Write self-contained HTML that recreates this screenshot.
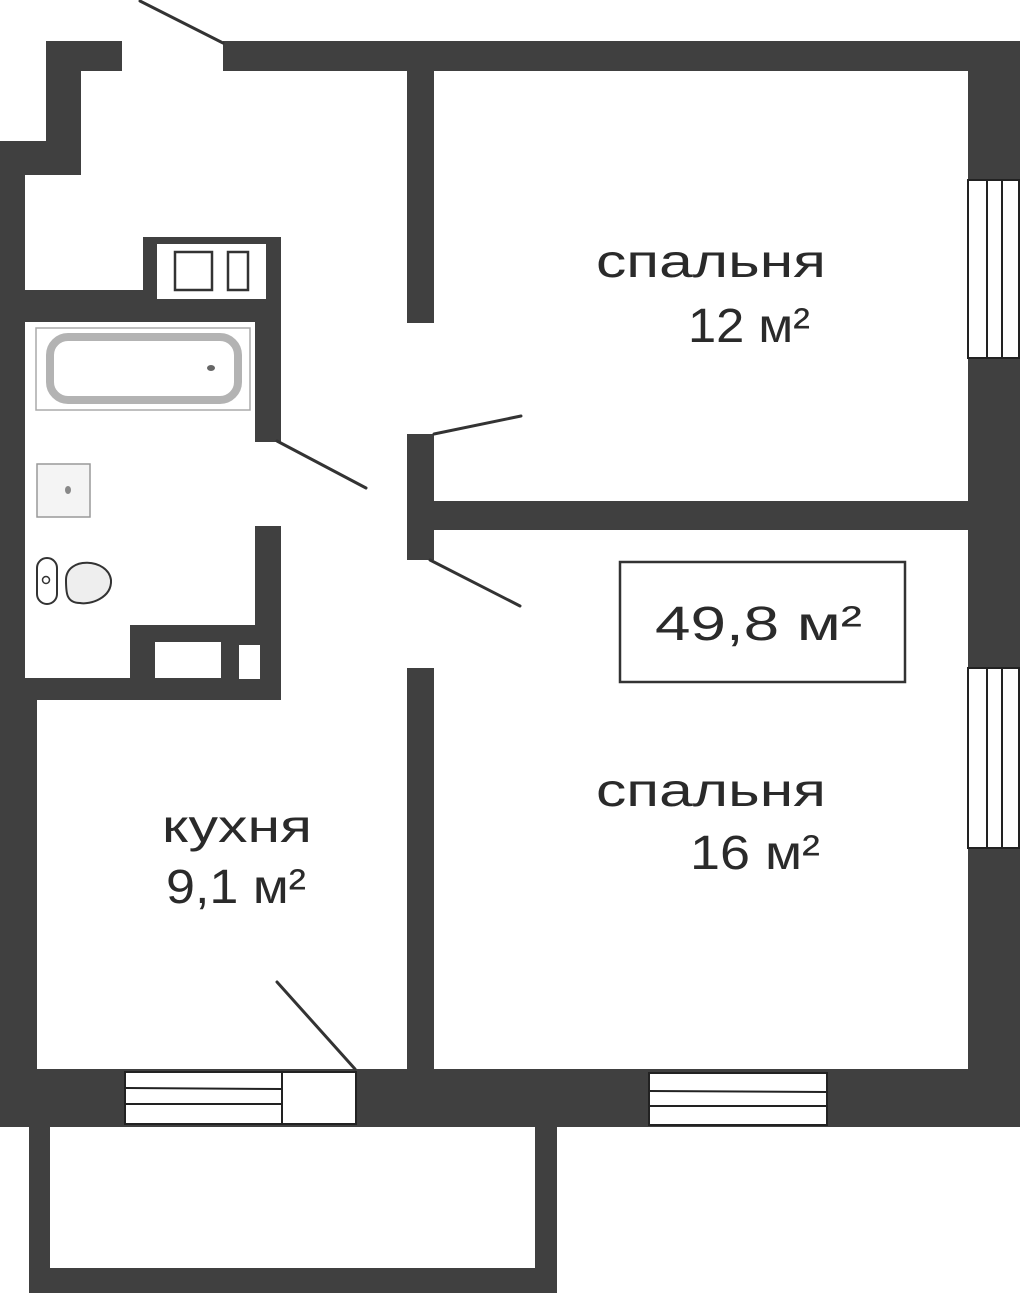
<!DOCTYPE html>
<html><head><meta charset="utf-8"><style>
html,body{margin:0;padding:0;background:#fff;}
svg{display:block}
text{font-family:"Liberation Sans","DejaVu Sans",sans-serif;fill:#2a2a2a;}
</style></head><body>
<svg width="1024" height="1294" viewBox="0 0 1024 1294" xmlns="http://www.w3.org/2000/svg">
<g fill="#404040">
<!-- top walls -->
<rect x="46" y="41" width="76" height="30"/>
<rect x="46" y="41" width="35" height="134"/>
<rect x="0" y="141" width="81" height="34"/>
<rect x="223" y="41" width="797" height="30"/>
<!-- left wall -->
<rect x="0" y="141" width="25" height="986"/>
<rect x="0" y="700" width="37" height="427"/>
<!-- right wall -->
<rect x="968" y="41" width="52" height="1086"/>
<!-- hall/bedroom partition -->
<rect x="407" y="71" width="27" height="252"/>
<rect x="407" y="434" width="27" height="126"/>
<rect x="407" y="668" width="27" height="402"/>
<!-- middle wall -->
<rect x="434" y="501" width="534" height="29"/>
<!-- bathroom walls -->
<rect x="143" y="237" width="138" height="85"/>
<rect x="24" y="290" width="257" height="32"/>
<rect x="255" y="290" width="26" height="152"/>
<rect x="255" y="526" width="26" height="174"/>
<rect x="130" y="625" width="151" height="75"/>
<rect x="24" y="678" width="257" height="22"/>
<!-- bottom wall -->
<rect x="0" y="1069" width="1020" height="58"/>
<!-- balcony -->
<rect x="29" y="1120" width="528" height="173"/>
</g>
<g fill="#fff">
<rect x="157" y="244" width="109" height="55"/>
<rect x="155" y="642" width="66" height="36"/>
<rect x="239" y="645" width="21" height="34"/>
<rect x="50" y="1127" width="485" height="141"/>
<rect x="37" y="700" width="370" height="369"/>
<rect x="434" y="530" width="534" height="539"/>
</g>
<!-- shaft inner rects -->
<rect x="175" y="252" width="37" height="38" fill="#fff" stroke="#333" stroke-width="2.5"/>
<rect x="228" y="252" width="20" height="38" fill="#fff" stroke="#333" stroke-width="2.5"/>
<!-- bath -->
<rect x="31" y="322" width="224" height="90" fill="#fff"/>
<rect x="36" y="328" width="214" height="82" fill="#fff" stroke="#aaa" stroke-width="1.5"/>
<rect x="50" y="337" width="188" height="63" rx="18" fill="#fff" stroke="#b3b3b3" stroke-width="8"/>
<ellipse cx="211" cy="368" rx="4" ry="3" fill="#666"/>
<!-- sink -->
<rect x="37" y="464" width="53" height="53" fill="#f4f4f4" stroke="#999" stroke-width="1.5"/>
<ellipse cx="68" cy="490" rx="3" ry="4" fill="#888"/>
<!-- toilet -->
<rect x="37" y="558" width="20" height="46" rx="10" fill="#fff" stroke="#333" stroke-width="2"/>
<circle cx="46" cy="580" r="3.5" fill="#fff" stroke="#333" stroke-width="1.5"/>
<path d="M66 580 C66 556 108 558 111 580 C112 598 90 605 80 603 C66 603 66 592 66 580Z" fill="#eee" stroke="#333" stroke-width="2"/>
<!-- windows right -->
<g fill="#fff" stroke="#222" stroke-width="2">
<rect x="968" y="180" width="51" height="178"/>
<line x1="987" y1="180" x2="987" y2="358"/>
<line x1="1002" y1="180" x2="1002" y2="358"/>
<rect x="968" y="668" width="51" height="180"/>
<line x1="987" y1="668" x2="987" y2="848"/>
<line x1="1002" y1="668" x2="1002" y2="848"/>
<!-- kitchen window -->
<rect x="125" y="1072" width="157" height="52"/>
<line x1="125" y1="1088" x2="282" y2="1089"/>
<line x1="125" y1="1104" x2="282" y2="1104"/>
<rect x="282" y="1072" width="74" height="52"/>
<!-- bedroom window -->
<rect x="649" y="1073" width="178" height="52"/>
<line x1="649" y1="1091" x2="827" y2="1092"/>
<line x1="649" y1="1106" x2="827" y2="1106"/>
</g>
<!-- door lines -->
<g stroke="#333" stroke-width="3" stroke-linecap="round">
<line x1="140" y1="1" x2="223" y2="43"/>
<line x1="277" y1="441" x2="366" y2="488"/>
<line x1="434" y1="434" x2="521" y2="416"/>
<line x1="430" y1="560" x2="520" y2="606"/>
<line x1="277" y1="982" x2="355" y2="1069"/>
</g>
<!-- total area box -->
<rect x="620" y="562" width="285" height="120" fill="none" stroke="#333" stroke-width="2.5"/>
<text x="655" y="640" font-size="48" textLength="207" lengthAdjust="spacingAndGlyphs">49,8 м²</text>
<text x="596" y="277" font-size="46" textLength="230" lengthAdjust="spacingAndGlyphs">спальня</text>
<text x="688" y="342" font-size="48" textLength="122" lengthAdjust="spacingAndGlyphs">12 м²</text>
<text x="596" y="806" font-size="46" textLength="230" lengthAdjust="spacingAndGlyphs">спальня</text>
<text x="690" y="869" font-size="48" textLength="130" lengthAdjust="spacingAndGlyphs">16 м²</text>
<text x="162" y="842" font-size="46" textLength="150" lengthAdjust="spacingAndGlyphs">кухня</text>
<text x="166" y="903" font-size="48" textLength="140" lengthAdjust="spacingAndGlyphs">9,1 м²</text>
</svg>
</body></html>
